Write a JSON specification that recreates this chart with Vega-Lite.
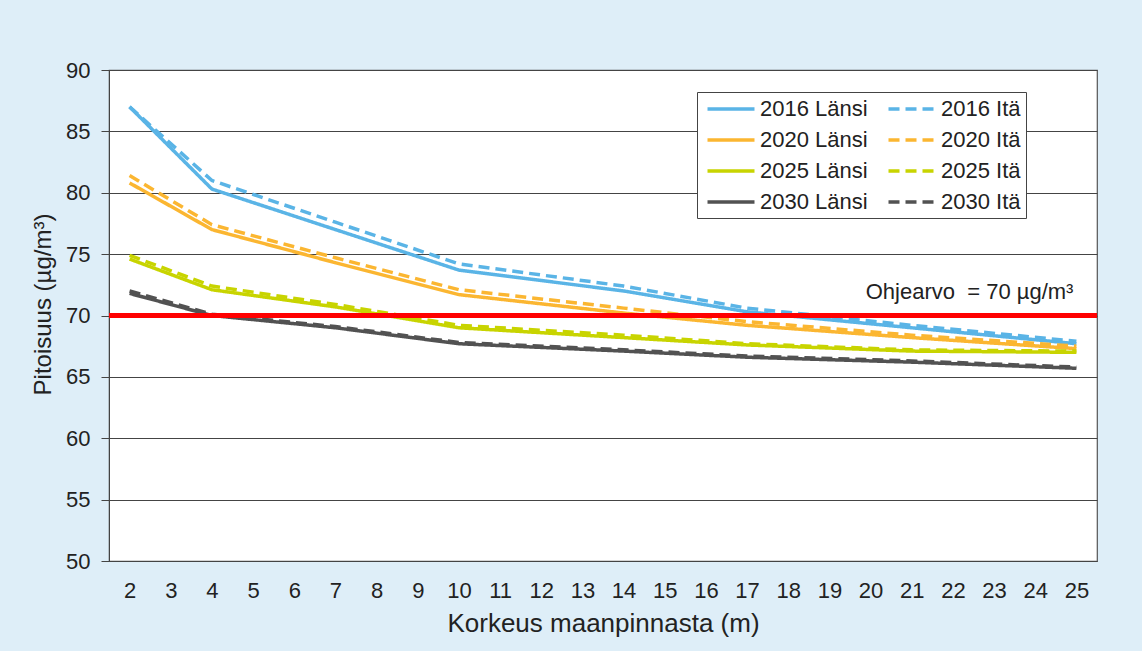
{
  "$schema": "https://vega.github.io/schema/vega-lite/v6.json",
  "width": 988,
  "height": 491,
  "autosize": {"type": "none"},
  "padding": {"left": 109, "top": 70, "right": 45, "bottom": 90},
  "background": "#deeef8",
  "config": {
    "font": "Liberation Sans",
    "view": {"fill": "white", "stroke": "#555555", "strokeWidth": 1.2},
    "axis": {"labelFont": "Liberation Sans", "titleFont": "Liberation Sans", "labelFontSize": 22, "titleFontSize": 24, "labelColor": "#222222", "titleColor": "#222222", "titleFontWeight": "normal"}
  },
  "datasets": {
    "lines": [
      {"height": 2, "value": 87.0, "series": "2016 Länsi"},
      {"height": 4, "value": 80.3, "series": "2016 Länsi"},
      {"height": 7, "value": 77.0, "series": "2016 Länsi"},
      {"height": 10, "value": 73.7, "series": "2016 Länsi"},
      {"height": 14, "value": 72.0, "series": "2016 Länsi"},
      {"height": 17, "value": 70.3, "series": "2016 Länsi"},
      {"height": 21, "value": 69.0, "series": "2016 Länsi"},
      {"height": 25, "value": 67.7, "series": "2016 Länsi"},
      {"height": 2, "value": 87.0, "series": "2016 Itä"},
      {"height": 4, "value": 81.0, "series": "2016 Itä"},
      {"height": 7, "value": 77.6, "series": "2016 Itä"},
      {"height": 10, "value": 74.2, "series": "2016 Itä"},
      {"height": 14, "value": 72.4, "series": "2016 Itä"},
      {"height": 17, "value": 70.6, "series": "2016 Itä"},
      {"height": 21, "value": 69.2, "series": "2016 Itä"},
      {"height": 25, "value": 67.9, "series": "2016 Itä"},
      {"height": 2, "value": 80.8, "series": "2020 Länsi"},
      {"height": 4, "value": 77.0, "series": "2020 Länsi"},
      {"height": 7, "value": 74.3, "series": "2020 Länsi"},
      {"height": 10, "value": 71.7, "series": "2020 Länsi"},
      {"height": 14, "value": 70.2, "series": "2020 Länsi"},
      {"height": 17, "value": 69.2, "series": "2020 Länsi"},
      {"height": 21, "value": 68.2, "series": "2020 Länsi"},
      {"height": 25, "value": 67.3, "series": "2020 Länsi"},
      {"height": 2, "value": 81.4, "series": "2020 Itä"},
      {"height": 4, "value": 77.4, "series": "2020 Itä"},
      {"height": 7, "value": 74.7, "series": "2020 Itä"},
      {"height": 10, "value": 72.1, "series": "2020 Itä"},
      {"height": 14, "value": 70.6, "series": "2020 Itä"},
      {"height": 17, "value": 69.5, "series": "2020 Itä"},
      {"height": 21, "value": 68.4, "series": "2020 Itä"},
      {"height": 25, "value": 67.5, "series": "2020 Itä"},
      {"height": 2, "value": 74.6, "series": "2025 Länsi"},
      {"height": 4, "value": 72.1, "series": "2025 Länsi"},
      {"height": 7, "value": 70.7, "series": "2025 Länsi"},
      {"height": 10, "value": 69.0, "series": "2025 Länsi"},
      {"height": 14, "value": 68.2, "series": "2025 Länsi"},
      {"height": 17, "value": 67.6, "series": "2025 Länsi"},
      {"height": 21, "value": 67.1, "series": "2025 Länsi"},
      {"height": 25, "value": 67.0, "series": "2025 Länsi"},
      {"height": 2, "value": 74.9, "series": "2025 Itä"},
      {"height": 4, "value": 72.4, "series": "2025 Itä"},
      {"height": 7, "value": 70.9, "series": "2025 Itä"},
      {"height": 10, "value": 69.2, "series": "2025 Itä"},
      {"height": 14, "value": 68.4, "series": "2025 Itä"},
      {"height": 17, "value": 67.7, "series": "2025 Itä"},
      {"height": 21, "value": 67.2, "series": "2025 Itä"},
      {"height": 25, "value": 67.1, "series": "2025 Itä"},
      {"height": 2, "value": 71.8, "series": "2030 Länsi"},
      {"height": 4, "value": 70.0, "series": "2030 Länsi"},
      {"height": 7, "value": 69.0, "series": "2030 Länsi"},
      {"height": 10, "value": 67.7, "series": "2030 Länsi"},
      {"height": 14, "value": 67.1, "series": "2030 Länsi"},
      {"height": 17, "value": 66.6, "series": "2030 Länsi"},
      {"height": 21, "value": 66.2, "series": "2030 Länsi"},
      {"height": 25, "value": 65.7, "series": "2030 Länsi"},
      {"height": 2, "value": 72.0, "series": "2030 Itä"},
      {"height": 4, "value": 70.1, "series": "2030 Itä"},
      {"height": 7, "value": 69.1, "series": "2030 Itä"},
      {"height": 10, "value": 67.8, "series": "2030 Itä"},
      {"height": 14, "value": 67.2, "series": "2030 Itä"},
      {"height": 17, "value": 66.7, "series": "2030 Itä"},
      {"height": 21, "value": 66.3, "series": "2030 Itä"},
      {"height": 25, "value": 65.8, "series": "2030 Itä"}
    ],
    "limit": [{"limit": 70, "xpos": 25, "label": "Ohjearvo\u00a0\u00a0= 70 µg/m³"}]
  },
  "layer": [
    {
      "data": {"name": "lines"},
      "mark": {"type": "line", "strokeWidth": 3.5},
      "encoding": {
        "x": {
          "field": "height", "type": "quantitative",
          "scale": {"domain": [1.5, 25.5], "nice": false, "zero": false},
          "axis": {"values": [2,3,4,5,6,7,8,9,10,11,12,13,14,15,16,17,18,19,20,21,22,23,24,25], "ticks": false, "domain": false, "grid": false, "labelPadding": 19, "labelFlush": false, "title": "Korkeus maanpinnasta (m)", "titleFontSize": 26, "titlePadding": 9}
        },
        "y": {
          "field": "value", "type": "quantitative",
          "scale": {"domain": [50, 90], "nice": false, "zero": false},
          "axis": {"values": [50,55,60,65,70,75,80,85,90], "grid": true, "gridColor": "#444444", "gridWidth": 1, "gridOpacity": 1, "tickSize": 8, "tickColor": "#444444", "domainColor": "#444444", "labelPadding": 11, "title": "Pitoisuus (µg/m³)", "titlePadding": 10, "titleY": 234}
        },
        "color": {
          "field": "series", "type": "nominal",
          "scale": {
            "domain": ["2016 Länsi", "2020 Länsi", "2025 Länsi", "2030 Länsi", "2016 Itä", "2020 Itä", "2025 Itä", "2030 Itä"],
            "range": ["#5ab4e6", "#fbb631", "#c8d400", "#525252", "#5ab4e6", "#fbb631", "#c8d400", "#525252"]
          },
          "legend": {"orient": "none", "legendX": 588, "legendY": 22, "columns": 2, "title": null, "symbolType": "M-2.35,0H2.35", "symbolSize": 400, "symbolStrokeWidth": 3.5, "labelFontSize": 22, "labelFont": "Liberation Sans", "labelColor": "#222222", "strokeColor": "#444444", "fillColor": "white", "padding": 5, "rowPadding": 8, "columnPadding": 13, "labelOffset": 17, "symbolOffset": 17}
        },
        "strokeDash": {
          "field": "series", "type": "nominal",
          "scale": {
            "domain": ["2016 Länsi", "2020 Länsi", "2025 Länsi", "2030 Länsi", "2016 Itä", "2020 Itä", "2025 Itä", "2030 Itä"],
            "range": [[1, 0], [1, 0], [1, 0], [1, 0], [11, 6], [11, 6], [11, 6], [11, 6]]
          },
          "legend": {"orient": "none", "legendX": 588, "legendY": 22, "columns": 2, "title": null, "symbolType": "M-2.35,0H2.35", "symbolSize": 400, "symbolStrokeWidth": 3.5, "labelFontSize": 22, "labelFont": "Liberation Sans", "labelColor": "#222222", "strokeColor": "#444444", "fillColor": "white", "padding": 5, "rowPadding": 8, "columnPadding": 13, "labelOffset": 17, "symbolOffset": 17}
        }
      }
    },
    {
      "data": {"name": "limit"},
      "mark": {"type": "rule", "color": "#ff0000", "strokeWidth": 5},
      "encoding": {"y": {"field": "limit", "type": "quantitative"}}
    },
    {
      "data": {"name": "limit"},
      "mark": {"type": "text", "align": "right", "baseline": "alphabetic", "dy": -17, "dx": -3, "fontSize": 22, "font": "Liberation Sans", "color": "#222222"},
      "encoding": {
        "x": {"field": "xpos", "type": "quantitative"},
        "y": {"field": "limit", "type": "quantitative"},
        "text": {"field": "label"}
      }
    }
  ]
}
